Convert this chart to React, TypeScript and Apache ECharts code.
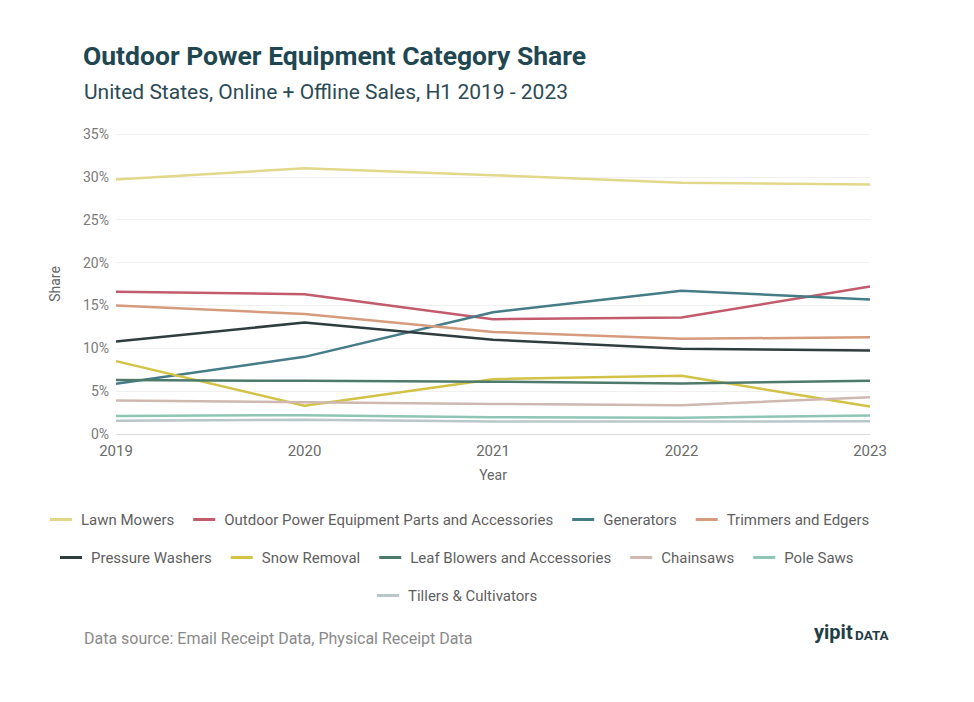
import React, { useEffect, useRef } from "react";
import * as echarts from "echarts";

const years = ["2019", "2020", "2021", "2022", "2023"];

const lawnMowers = [29.7, 31.0, 30.2, 29.3, 29.1];
const partsAccessories = [16.6, 16.3, 13.4, 13.6, 17.2];
const generators = [5.85, 9.0, 14.2, 16.7, 15.7];
const trimmersEdgers = [15.0, 14.0, 11.9, 11.1, 11.3];
const pressureWashers = [10.8, 13.0, 11.0, 9.95, 9.75];
const snowRemoval = [8.5, 3.3, 6.4, 6.8, 3.2];
const leafBlowers = [6.3, 6.2, 6.1, 5.9, 6.2];
const chainsaws = [3.9, 3.7, 3.5, 3.35, 4.3];
const poleSaws = [2.1, 2.2, 1.95, 1.9, 2.15];
const tillers = [1.55, 1.65, 1.45, 1.45, 1.5];

const seriesDefs = [
  { name: "Lawn Mowers", data: lawnMowers, color: "#e2d88a" },
  { name: "Outdoor Power Equipment Parts and Accessories", data: partsAccessories, color: "#c25c6c" },
  { name: "Generators", data: generators, color: "#447c88" },
  { name: "Trimmers and Edgers", data: trimmersEdgers, color: "#d69b7c" },
  { name: "Pressure Washers", data: pressureWashers, color: "#2f3d3e" },
  { name: "Snow Removal", data: snowRemoval, color: "#d2c246" },
  { name: "Leaf Blowers and Accessories", data: leafBlowers, color: "#4d7a6b" },
  { name: "Chainsaws", data: chainsaws, color: "#ceb8b0" },
  { name: "Pole Saws", data: poleSaws, color: "#8fc5b4" },
  { name: "Tillers & Cultivators", data: tillers, color: "#b9c7c9" },
];

const legendRow1 = ["Lawn Mowers", "Outdoor Power Equipment Parts and Accessories", "Generators", "Trimmers and Edgers"];
const legendRow2 = ["Pressure Washers", "Snow Removal", "Leaf Blowers and Accessories", "Chainsaws", "Pole Saws"];
const legendRow3 = ["Tillers & Cultivators"];

const FONT = "Roboto, 'Noto Sans', sans-serif";

export default function App() {
  const ref = useRef<HTMLDivElement>(null);
  useEffect(() => {
    document.body.style.margin = "0";
    const chart = echarts.init(ref.current!, null, { renderer: "svg" });
    const legendBase = {
      icon: "rect",
      itemWidth: 22,
      itemHeight: 3,
      itemGap: 19,
      textStyle: { color: "#5f5f5f", fontSize: 15, fontFamily: FONT, padding: [0, 0, 0, 4] },
      selectedMode: false,
    };
    chart.setOption({
      animation: false,
      backgroundColor: "#ffffff",
      textStyle: { fontFamily: FONT },
      title: [
        {
          text: "Outdoor Power Equipment Category Share",
          left: 78,
          top: 37,
          textStyle: { fontSize: 26.5, fontWeight: "bold", color: "#1f4752", fontFamily: FONT },
        },
        {
          text: "United States, Online + Offline Sales, H1 2019 - 2023",
          left: 79,
          top: 76,
          textStyle: { fontSize: 21, fontWeight: "normal", color: "#2b4a54", fontFamily: FONT },
        },
        {
          text: "Data source: Email Receipt Data, Physical Receipt Data",
          left: 79,
          top: 625,
          textStyle: { fontSize: 16, fontWeight: "normal", color: "#8a8a8a", fontFamily: FONT },
        },
      ],
      grid: { left: 116, right: 104, top: 134, bottom: 268 },
      xAxis: {
        type: "category",
        data: years,
        boundaryGap: false,
        name: "Year",
        nameLocation: "middle",
        nameGap: 34,
        nameTextStyle: { color: "#666", fontSize: 14 },
        axisLine: { lineStyle: { color: "#dddddd" } },
        axisTick: { show: false },
        axisLabel: { color: "#6a6a6a", fontSize: 15, margin: 9 },
      },
      yAxis: {
        type: "value",
        min: 0,
        max: 35,
        interval: 5,
        name: "Share",
        nameLocation: "middle",
        nameGap: 54,
        nameTextStyle: { color: "#666", fontSize: 14 },
        axisLine: { show: false },
        axisTick: { show: false },
        axisLabel: { color: "#7a7a7a", fontSize: 14, formatter: "{value}%", margin: 7 },
        splitLine: { lineStyle: { color: "#f0f0f0" } },
      },
      legend: [
        { ...legendBase, data: legendRow1, left: 45, top: 507 },
        { ...legendBase, data: legendRow2, left: 55, top: 545 },
        { ...legendBase, data: legendRow3, left: 372, top: 583 },
      ],
      graphic: [
        {
          type: "text",
          left: 814,
          top: 622,
          style: {
            text: "yipit",
            fontSize: 20,
            fontWeight: "bold",
            fill: "#1f3e45",
            fontFamily: FONT,
          },
        },
        {
          type: "text",
          left: 855,
          top: 628,
          style: {
            text: "DATA",
            fontSize: 13.5,
            fontWeight: "bold",
            fill: "#1f3e45",
            fontFamily: FONT,
          },
        },
      ],
      series: seriesDefs.map((s) => ({
        name: s.name,
        type: "line",
        data: s.data,
        symbol: "none",
        color: s.color,
        lineStyle: { width: 2.5, color: s.color },
        emphasis: { disabled: true },
      })),
    });
    return () => chart.dispose();
  }, []);
  return <div ref={ref} style={{ width: 974, height: 702 }} />;
}
